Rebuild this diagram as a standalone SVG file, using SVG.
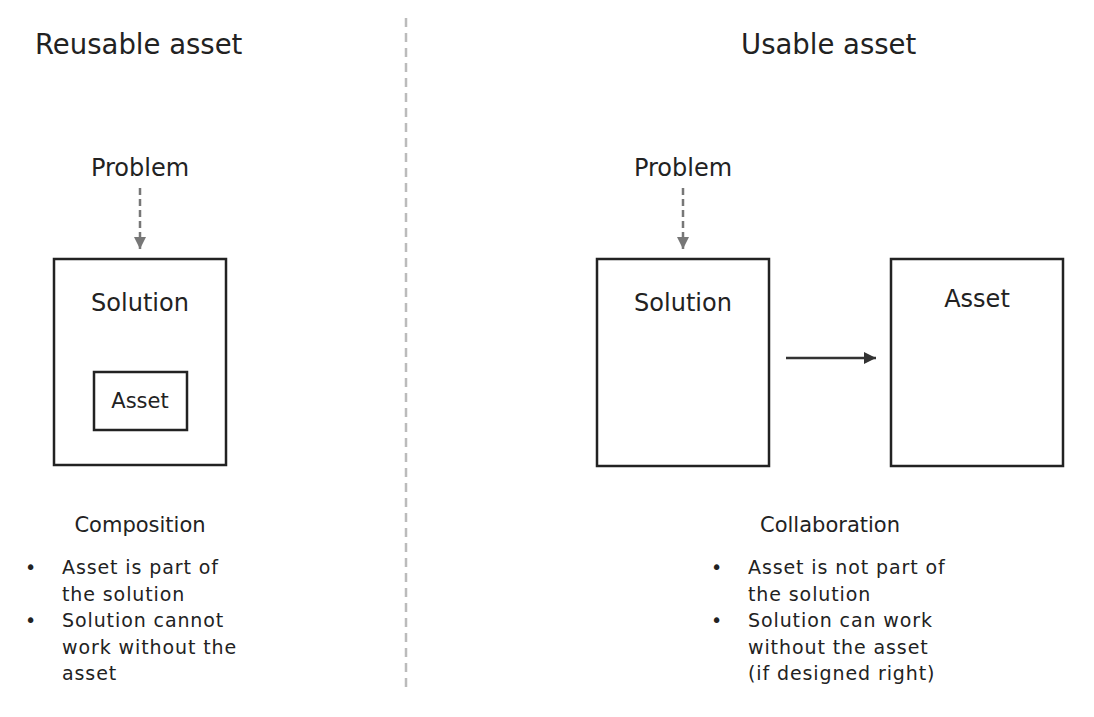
<svg xmlns="http://www.w3.org/2000/svg" width="1094" height="717" viewBox="0 0 1094 717">
<defs>
<style>
text{font-family:"DejaVu Sans","Liberation Sans",sans-serif;fill:#222}
.title{font-size:27.5px}
.label{font-size:24px;text-anchor:middle}
.small{font-size:21px;text-anchor:middle}
.body{font-size:19px;letter-spacing:0.9px}
.box{fill:#fff;stroke:#222;stroke-width:2.5}
.dash{stroke:#777;stroke-width:2.5;stroke-dasharray:7 4;fill:none}
.solid{stroke:#333;stroke-width:2.5;fill:none}
</style>
<marker id="ag" viewBox="0 0 10 10" refX="10" refY="5" markerWidth="5" markerHeight="5" orient="auto" markerUnits="strokeWidth"><path d="M0,0L10,5L0,10z" fill="#777"/></marker>
<marker id="ab" viewBox="0 0 10 10" refX="10" refY="5" markerWidth="5" markerHeight="5" orient="auto" markerUnits="strokeWidth"><path d="M0,0L10,5L0,10z" fill="#333"/></marker>
</defs>
<rect width="1094" height="717" fill="#fff"/>
<line x1="406" y1="18" x2="406" y2="690" stroke="#bbb" stroke-width="2.5" stroke-dasharray="9 6"/>
<text class="title" x="35" y="54">Reusable asset</text>
<text class="title" x="741" y="54">Usable asset</text>
<g id="left-problem"><text class="label" x="140" y="176">Problem</text></g>
<g id="left-solution"><rect class="box" x="54" y="259" width="172" height="206"/><text class="label" x="140" y="311">Solution</text></g>
<g id="left-asset"><rect class="box" x="94" y="372" width="93" height="58"/><text class="small" x="140" y="408">Asset</text></g>
<g id="right-problem"><text class="label" x="683" y="176">Problem</text></g>
<g id="right-solution"><rect class="box" x="597" y="259" width="172" height="207"/><text class="label" x="683" y="311">Solution</text></g>
<g id="right-asset"><rect class="box" x="891" y="259" width="172" height="207"/><text class="label" x="977" y="307">Asset</text></g>
<g id="connectors">
<line class="dash" x1="140" y1="188" x2="140" y2="249" marker-end="url(#ag)"/>
<line class="dash" x1="683" y1="188" x2="683" y2="249" marker-end="url(#ag)"/>
<line class="solid" x1="786" y1="358" x2="876" y2="358" marker-end="url(#ab)"/>
</g>
<g id="left-notes">
<text class="small" x="140" y="532">Composition</text>
<text class="body" x="25" y="574">•</text>
<text class="body" x="62" y="574">Asset is part of</text>
<text class="body" x="62" y="601">the solution</text>
<text class="body" x="25" y="627">•</text>
<text class="body" x="62" y="627">Solution cannot</text>
<text class="body" x="62" y="654">work without the</text>
<text class="body" x="62" y="680">asset</text>
</g>
<g id="right-notes">
<text class="small" x="830" y="532">Collaboration</text>
<text class="body" x="711" y="574">•</text>
<text class="body" x="748" y="574">Asset is not part of</text>
<text class="body" x="748" y="601">the solution</text>
<text class="body" x="711" y="627">•</text>
<text class="body" x="748" y="627">Solution can work</text>
<text class="body" x="748" y="654">without the asset</text>
<text class="body" x="748" y="680">(if designed right)</text>
</g>
</svg>
